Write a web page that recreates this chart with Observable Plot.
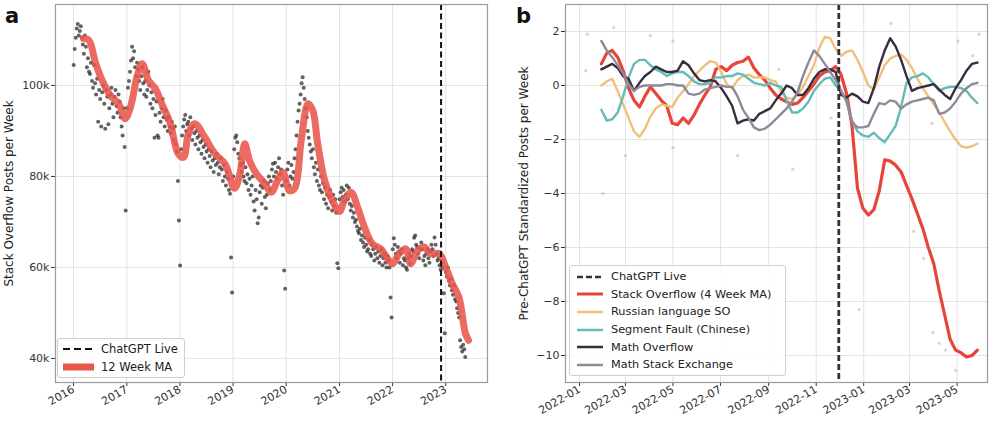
<!DOCTYPE html>
<html><head><meta charset="utf-8">
<script src="https://cdn.jsdelivr.net/npm/d3@7"></script>
<script src="https://cdn.jsdelivr.net/npm/@observablehq/plot@0.6"></script>
<style>
body{margin:0;background:#fff;font-family:"DejaVu Sans",sans-serif;}
#wrap{position:relative;width:1000px;height:423px;overflow:hidden;}
.panel{position:absolute;top:0;width:500px;height:423px;}
.tag{position:absolute;font-weight:bold;font-size:21px;color:#111;line-height:1;}
.legend{position:absolute;background:rgba(255,255,255,0.85);border:1px solid #cfcfcf;border-radius:3px;color:#222;box-sizing:border-box;}
.row{display:flex;align-items:center;white-space:nowrap;}
.row svg{flex:none;}
</style>
</head><body>
<div id="wrap">
  <div class="panel" id="pa" style="left:0"></div>
  <div class="panel" id="pb" style="left:500px"></div>
  <div class="tag" style="left:5px;top:6px">a</div>
  <div class="tag" style="left:516px;top:6px">b</div>
  <div class="legend" id="legA" style="left:57px;top:338px;width:128px;height:40px;font-size:11.5px;padding:1px 0 0 5px"></div>
  <div class="legend" id="legB" style="left:569px;top:265px;width:217px;height:111px;font-size:11.3px;padding:2px 0 0 7px"></div>
</div>
<script>
// ---------- Panel a: weekly Stack Overflow posts (thousands) ----------
const so2016 = [104.5,108,110.5,112.5,113.5,111,112,113,110.5,109,107,111,108.5,104,106,103,102.5,105,101,99.5,104.5,100.5,98,101.5,92,99,97,91,98.5,100,96,90.5,99,97.5,91.5,95,98,99.5,96,93,97.5,99,95.5,94,98,96.5,93,91,89,95,86.5,72.5];
const so2017 = [95,99.5,101,103,105.5,108.5,106,107.5,104,102,105,103.5,101,99,102,104,100.5,98,101,97.5,99,103,100,96,98.5,95,97,88.5,93.5,96.5,89,88.5,94,92,95,97,93,91,94.5,92.5,90,93,91,89.5,92,90.5,88,91,87,85.5,79,70.3];
const so2018 = [60.4,86,89,91,92.5,93.5,90,91.5,92,89,93,90.5,88,91,89.5,87,90,88.5,86,89,87.5,85,88,86.5,84,87,85.5,83,86,84.5,82,85.5,83.5,81,84,82.5,85,83,80.5,82,84,81.5,79,82.5,80,78,81,79.5,77,76.2,62.2,54.5];
const so2019 = [80,86,88.5,89,87.5,85,84,82.5,81,83,80,79,82,78.5,80.5,77,79.5,76,78,80,74.5,72.5,77,75,69.7,71,76.5,78,74,77.5,79,75.5,73,76,78.5,80,77,79,81.5,82.8,80,83,81,79.5,82,84,80.5,81.5,78,76,59.3,55.3];
const so2020 = [79,81.5,83,78,80,82.5,79.5,81,84,86,89,92,94.5,96,98,100.5,101.8,99.5,97,95,93,90,88.5,87,85.5,84,86,82,80.5,83,79,81.5,78,77,80,76.5,78.5,75,77.5,74,76,73,75.5,77,74.5,72.5,76,73.5,75,72,60.9,59.8];
const so2021 = [75,76.5,77.5,75.5,77,74.5,76,78,75,77.5,74,72.5,73.5,71,72,70,70.5,69,68,67.5,68.5,66,67,65.5,64.5,66.5,65,63.5,64,66,63,62.5,65,64,61.5,63,64.5,62,63.5,61,62.5,64,60.5,62,63,61,60,62.5,61.5,60,53.4,49];
const so2022 = [64,66.4,65,63,62,64.5,63.5,61,63,64,60.5,62,61.5,60,59.5,62,63,60.8,62.5,64,63.5,66.5,67,65,64.5,63,62,64,65.5,64,61.5,62.5,60.5,63,64,62,61,63.5,65,64,62.5,66.6,65,63,61.5,62,60.5,59.5,61,60,54.3,45.5];
const so2023 = [59,58,60,57,56,57.5,55,54,56,53,52.5,51,50,49,44,42.5,41.5,43,42,40.3];

// 12 week moving average
const maDates = ["2016-03-10","2016-04-16","2016-05-30","2016-07-16","2016-09-09","2016-11-06","2016-12-20",
 "2017-01-26","2017-03-11","2017-04-16","2017-05-30","2017-07-16","2017-08-29","2017-10-27","2017-12-20",
 "2018-01-26","2018-02-28","2018-04-13","2018-06-21","2018-08-29","2018-11-06",
 "2019-01-11","2019-02-17","2019-03-22","2019-04-24","2019-06-10","2019-08-08","2019-09-20","2019-11-03","2019-12-10",
 "2020-01-22","2020-02-28","2020-04-13","2020-05-30","2020-07-02","2020-08-04","2020-09-21","2020-11-03",
 "2021-01-01","2021-02-03","2021-03-22","2021-05-05","2021-06-21","2021-08-15","2021-10-12","2021-11-14",
 "2022-01-01","2022-02-14","2022-04-02","2022-05-05","2022-06-21","2022-08-04","2022-09-21","2022-11-18",
 "2023-01-01","2023-02-14","2023-04-02","2023-05-16","2023-06-07"];
const maValues = [110.3,109.9,105.1,101.1,97.8,96.0,92.7,
 95.2,101.8,104.8,101.1,99.3,96.0,91.6,85.0,
 84.2,89.4,91.6,88.6,85.0,82.8,
 77.4,80.6,87.2,83.5,80.6,78.4,76.5,79.1,80.9,
 76.9,77.4,87.9,96.0,94.5,87.2,79.1,75.4,
 72.3,74.7,76.5,73.3,68.9,65.2,64.1,62.6,
 60.8,63.0,64.1,60.8,63.7,64.5,63.0,63.0,
 60.0,56.5,53.4,45.5,44.0];

const yearTicks = ["2016","2017","2018","2019","2020","2021","2022","2023"];
const chatgptLive = "2022-11-30";

// ---------- Panel b: standardized weekly posts ----------
const bStart = "2022-01-29";
const soMA4 = [0.8,1.2,1.3,1.05,0.55,-0.1,-0.55,-0.8,-0.4,-0.05,-0.3,-0.55,-0.75,-1.4,-1.45,-1.2,-1.4,-1.1,-0.7,-0.35,-0.05,0.6,0.7,0.55,0.75,0.85,0.9,1.05,0.65,0.4,0.2,-0.1,-0.35,-0.5,-0.6,-0.7,-0.65,-0.45,-0.2,0.05,0.35,0.5,0.55,0.7,0.4,-0.3,-1.5,-3.8,-4.55,-4.8,-4.6,-3.9,-2.75,-2.8,-2.95,-3.2,-3.7,-4.2,-4.75,-5.3,-6.0,-6.6,-7.6,-8.5,-9.4,-9.8,-9.9,-10.05,-10.0,-9.8];
const russianSO = [0.0,0.15,0.25,-0.2,-0.7,-1.2,-1.7,-1.9,-1.6,-1.15,-0.85,-0.7,-0.75,-0.8,-0.45,-0.2,0.05,0.35,0.55,0.75,0.9,0.85,0.5,0.05,-0.1,0.2,0.35,0.4,0.3,0.3,0.3,0.2,0.15,-0.25,-0.45,-0.5,-0.35,-0.05,0.35,0.75,1.4,1.8,1.75,1.35,1.1,1.25,1.3,0.95,0.5,0.0,-0.15,0.3,0.75,1.0,1.1,1.15,0.95,0.65,0.25,-0.1,-0.4,-0.7,-1.0,-1.35,-1.7,-2.0,-2.25,-2.3,-2.25,-2.15];
const segmentFault = [-0.9,-1.3,-1.25,-1.0,-0.4,0.3,0.8,0.95,0.95,0.75,0.6,0.5,0.35,0.45,0.5,0.5,0.35,0.15,0.05,0.05,0.1,0.3,0.3,0.35,0.35,0.45,0.4,0.25,0.1,0.05,0.0,0.1,0.0,-0.05,-0.55,-1.0,-1.0,-0.85,-0.6,-0.2,0.05,0.25,0.3,0.0,-0.2,-0.55,-1.3,-1.7,-1.85,-1.9,-1.75,-1.95,-2.1,-1.8,-1.5,-0.8,0.1,0.3,0.35,0.45,0.3,0.05,-0.2,-0.1,-0.05,-0.05,-0.1,-0.2,-0.45,-0.65];
const mathOverflow = [0.6,0.7,0.8,0.65,0.35,0.25,-0.2,0.1,0.35,0.5,0.7,0.6,0.5,0.5,0.55,0.9,0.75,0.45,0.2,0.15,0.2,0.15,-0.1,-0.4,-0.75,-1.4,-1.3,-1.25,-1.3,-1.05,-0.95,-0.85,-0.55,-0.3,0.0,-0.1,-0.35,-0.35,-0.1,0.25,0.5,0.6,0.6,0.5,-0.35,-0.45,-0.3,-0.4,-0.6,-0.65,-0.1,0.7,1.3,1.75,1.45,0.95,0.35,-0.2,-0.1,-0.05,0.0,0.05,-0.15,-0.35,-0.5,-0.1,0.2,0.55,0.8,0.85];
const mathSE = [1.65,1.3,1.05,0.75,0.45,0.05,-0.2,-0.05,0.0,0.0,0.0,0.0,0.05,0.05,0.0,0.0,-0.3,-0.35,-0.3,-0.15,-0.1,-0.05,0.0,-0.05,-0.05,-0.4,-0.9,-1.2,-1.55,-1.65,-1.6,-1.45,-1.25,-1.05,-0.85,-0.6,-0.25,0.35,0.85,1.3,1.1,0.8,0.5,0.2,-0.2,-0.6,-1.35,-1.55,-1.55,-1.5,-1.05,-0.65,-0.7,-0.55,-0.6,-0.85,-0.7,-0.6,-0.55,-0.5,-0.45,-0.55,-1.05,-1.0,-0.85,-0.6,-0.3,-0.1,0.05,0.1];
// faint raw weekly points visible behind the lines
const rawDates = ["2022-01-09","2022-01-11","2022-01-31","2022-02-14","2022-03-01","2022-04-02","2022-05-01","2022-05-01","2022-07-23","2022-09-14","2022-10-02","2022-11-20","2022-12-26","2023-02-05","2023-03-06","2023-03-19","2023-03-30","2023-03-31","2023-04-08","2023-04-16","2023-04-29","2023-05-02","2023-05-21","2023-05-29"];
const rawValues = [0.55,1.9,-4.0,2.15,-2.6,1.85,1.65,-2.3,-2.6,0.6,-3.1,-1.2,-8.3,2.3,-5.4,-6.4,-1.4,-9.15,-9.55,-9.8,-10.55,1.65,1.1,1.9];
const bTicks = ["2022-01-01","2022-03-01","2022-05-01","2022-07-01","2022-09-01","2022-11-01","2023-01-01","2023-03-01","2023-05-01"];

const seriesNames = ["Stack Overflow (4 Week MA)","Russian language SO","Segment Fault (Chinese)","Math Overflow","Math Stack Exchange"];
const seriesColors = ["#e8453a","#f0c07a","#63bcb8","#3a2b3e","#8f8a9a"];
const seriesWidths = [3.2,2.4,2.4,2.4,2.4];

// ---------- build tables ----------
const parse = d3.utcParse("%Y-%m-%d");
const soYears = [[2016,so2016],[2017,so2017],[2018,so2018],[2019,so2019],[2020,so2020],[2021,so2021],[2022,so2022],[2023,so2023]];
const weekly = soYears.flatMap(([yr, arr]) => arr.map((v, i) => ({date: new Date(Date.UTC(yr, 0, 2 + 7 * i)), value: v * 1000})));
const ma = maDates.map((d, i) => ({date: parse(d), value: maValues[i] * 1000}));
const live = parse(chatgptLive);

const fontStyle = {fontFamily: "DejaVu Sans, sans-serif", fontSize: "11px", color: "#333", background: "transparent", overflow: "visible"};

const chartA = Plot.plot({
  width: 500, height: 423,
  marginLeft: 55, marginRight: 13, marginTop: 4, marginBottom: 41,
  style: fontStyle,
  x: {type: "utc", domain: [parse("2015-08-30"), parse("2023-10-15")]},
  y: {domain: [34700, 117800]},
  marks: [
    Plot.gridX(yearTicks.map(d => parse(d + "-01-01")), {stroke: "#e3e3e3", strokeOpacity: 1}),
    Plot.gridY([40000, 60000, 80000, 100000], {stroke: "#e3e3e3", strokeOpacity: 1}),
    Plot.axisX(yearTicks.map(d => parse(d + "-01-01")), {tickFormat: d3.utcFormat("%Y"), tickRotate: -30, tickSize: 4, tickPadding: 2, label: null, fontSize: 11}),
    Plot.axisY([40000, 60000, 80000, 100000], {tickFormat: d => d / 1000 + "k", tickSize: 4, tickPadding: 2, label: null, fontSize: 11}),
    Plot.text(["Stack Overflow Posts per Week"], {frameAnchor: "left", textAnchor: "middle", lineAnchor: "middle", rotate: -90, dx: -46, fontSize: 12, fill: "#222"}),
    Plot.dot(weekly, {x: "date", y: "value", r: 2, fill: "#2e2e2e", fillOpacity: 0.75, stroke: null}),
    Plot.line(ma, {x: "date", y: "value", stroke: "#e8574c", strokeWidth: 7, strokeOpacity: 0.88, curve: "catmull-rom"}),
    Plot.ruleX([live], {stroke: "#111", strokeWidth: 2, strokeDasharray: "6,3.5"}),
    Plot.frame({stroke: "#9a9a9a", strokeWidth: 1.2})
  ]
});
document.getElementById("pa").appendChild(chartA);

const start = parse(bStart);
const bSeries = [soMA4, russianSO, segmentFault, mathOverflow, mathSE];
const bData = bSeries.flatMap((arr, s) => arr.map((v, i) => ({series: seriesNames[s], date: d3.utcDay.offset(start, 7 * i), value: v})));
const raw = rawDates.map((d, i) => ({date: parse(d), value: rawValues[i]}));
const minus = d => d < 0 ? "\u2212" + Math.abs(d) : String(d);

const chartB = Plot.plot({
  width: 500, height: 423,
  marginLeft: 65, marginRight: 13, marginTop: 4, marginBottom: 41,
  style: fontStyle,
  x: {type: "utc", domain: [parse("2021-12-14"), parse("2023-06-09")]},
  y: {domain: [-11, 3]},
  marks: [
    Plot.gridX(bTicks.map(parse), {stroke: "#e3e3e3", strokeOpacity: 1}),
    Plot.gridY([-10, -8, -6, -4, -2, 0, 2], {stroke: "#e3e3e3", strokeOpacity: 1}),
    Plot.axisX(bTicks.map(parse), {tickFormat: d3.utcFormat("%Y-%m"), tickRotate: -30, tickSize: 4, tickPadding: 2, label: null, fontSize: 11}),
    Plot.axisY([-10, -8, -6, -4, -2, 0, 2], {tickFormat: minus, tickSize: 4, tickPadding: 2, label: null, fontSize: 11}),
    Plot.text(["Pre-ChatGPT Standardized Posts per Week"], {frameAnchor: "left", textAnchor: "middle", lineAnchor: "middle", rotate: -90, dx: -41, fontSize: 12, fill: "#222"}),
    Plot.dot(raw, {x: "date", y: "value", r: 1.6, fill: "#c9a9ad", fillOpacity: 0.55, stroke: null}),
    ...seriesNames.map((name, s) => Plot.line(bData.filter(d => d.series === name), {x: "date", y: "value", stroke: seriesColors[s], strokeWidth: seriesWidths[s]})),
    Plot.ruleX([live], {stroke: "#333", strokeWidth: 2.8, strokeDasharray: "6,3"}),
    Plot.frame({stroke: "#9a9a9a", strokeWidth: 1.2})
  ]
});
document.getElementById("pb").appendChild(chartB);

// ---------- legends ----------
function row(sw, label, h) {
  const div = document.createElement("div");
  div.className = "row";
  div.style.height = h + "px";
  div.innerHTML = sw + `<span>${label}</span>`;
  return div;
}
function swatch(w, color, width, dash, gap) {
  return `<svg width="${w + gap}" height="10"><line x1="0" x2="${w}" y1="5" y2="5" stroke="${color}" stroke-width="${width}" ${dash ? `stroke-dasharray="${dash}"` : ""}/></svg>`;
}
const legA = document.getElementById("legA");
legA.appendChild(row(swatch(31, "#111", 2, "7,4", 7), "ChatGPT Live", 18));
legA.appendChild(row(swatch(31, "#e8574c", 7, null, 7), "12 Week MA", 18));
const legB = document.getElementById("legB");
legB.appendChild(row(swatch(26, "#333", 2.5, "6,3", 8), "ChatGPT Live", 17.6));
seriesNames.forEach((n, s) => legB.appendChild(row(swatch(26, seriesColors[s], s === 0 ? 3 : 2.5, null, 8), n, 17.6)));
</script>
</body></html>
